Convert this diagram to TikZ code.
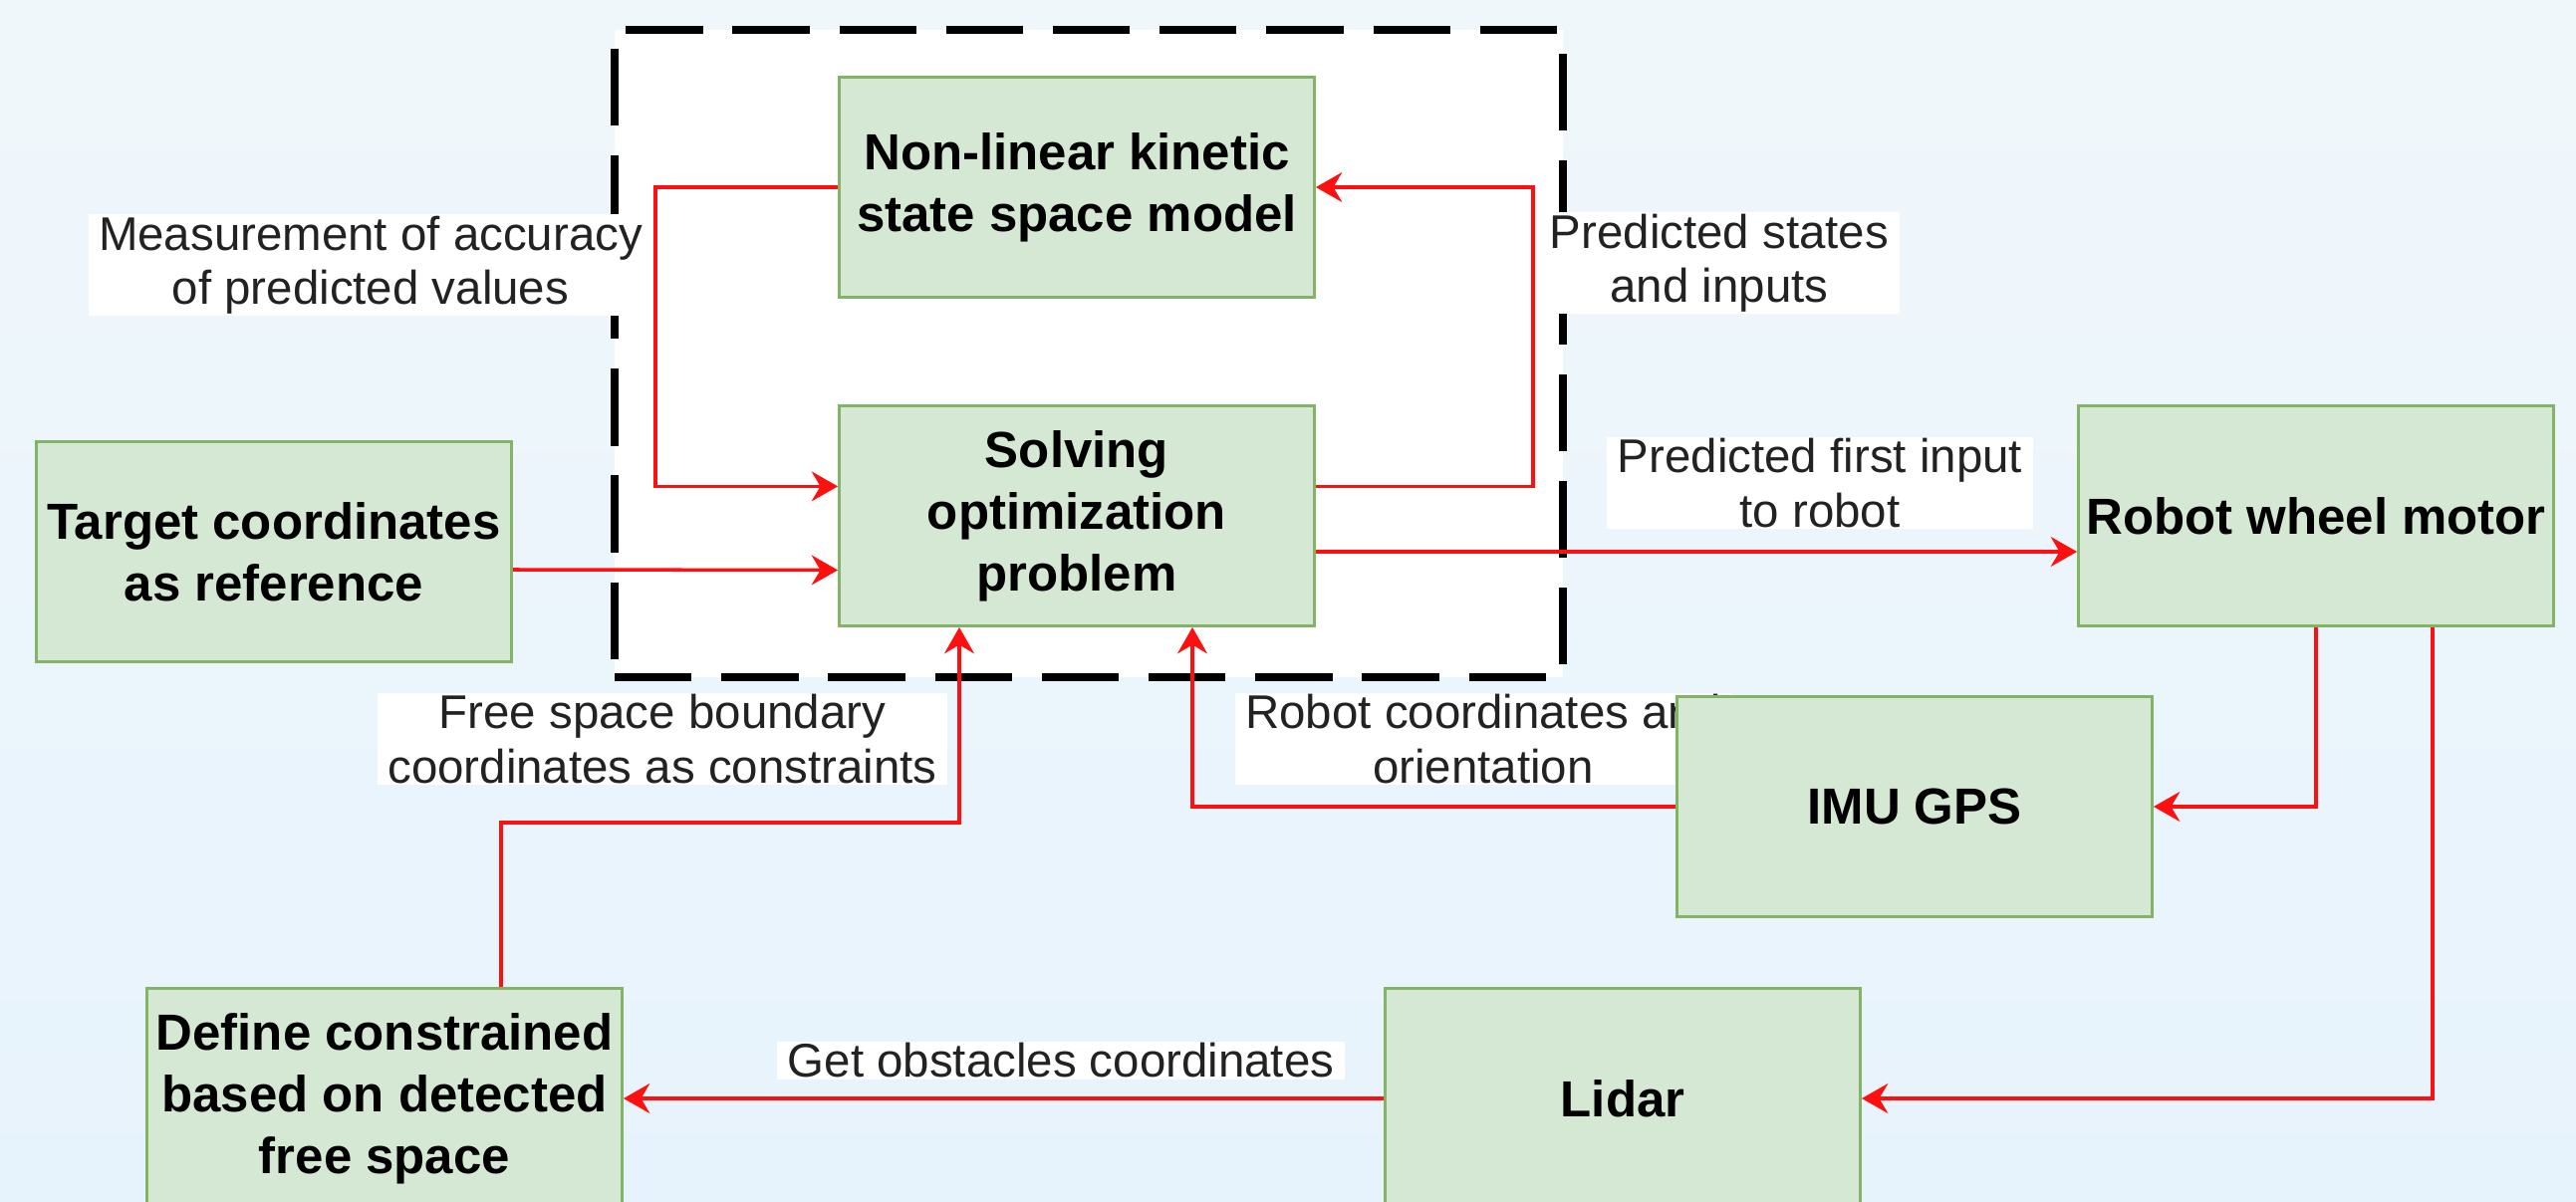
\documentclass[tikz,border=0pt]{standalone}
\usepackage{fontspec}
\setmainfont{Liberation Sans}
\usepackage{xcolor}
\usepackage{tikz}
\usetikzlibrary{arrows.meta,calc,positioning}

\definecolor{bgtop}{HTML}{F0F7FB}
\definecolor{bgbot}{HTML}{E7F3FC}
\definecolor{boxfill}{HTML}{D5E8D4}
\definecolor{boxedge}{HTML}{82B366}
\definecolor{wirered}{HTML}{FF1010}
\definecolor{lbltext}{HTML}{222222}

\begin{document}
\begin{tikzpicture}[
    blk/.style={rectangle, draw=boxedge, fill=boxfill, line width=0.8pt, minimum width=4.77cm, minimum height=2.21cm, inner sep=1pt, align=center, font=\fontsize{14.5}{17.6}\selectfont\bfseries},
    lbl/.style={rectangle, fill=white, text=lbltext, inner xsep=3pt, inner ysep=0.5pt, align=center, font=\fontsize{13.5}{15.4}\selectfont},
    flow/.style={-{Stealth[length=7.5pt,width=8.5pt,inset=2.5pt]}, wirered, line width=1pt},
    mpcband/.style={rectangle, draw=black, fill=white, line width=2.4pt, dash pattern=on 22pt off 8.5pt}
]
% ----- canvas -----
\clip (0,0) rectangle (25.86,12.06);
\shade[top color=bgtop, bottom color=bgbot] (0,0) rectangle (25.86,12.06);
% ----- MPC loop -----
\node[mpcband, minimum width=9.52cm, minimum height=6.5cm] (mpc) at (10.93,8.51) {};
\node[blk] (nlm) at (10.81,10.18) {Non-linear kinetic\\state space model};
\node[blk] (sol) at (10.81,6.88) {Solving\\optimization\\problem};
% ----- outer blocks -----
\node[blk] (tgt) at (2.75,6.52) {Target coordinates\\as reference};
\node[blk] (rwm) at (23.25,6.88) {Robot wheel motor};
\node[blk] (lid) at (16.29,1.03) {Lidar};
\node[blk] (def) at (3.86,1.03) {Define constrained\\based on detected\\free space};
% ----- labels -----
\node[lbl] (accLbl) at (3.72,9.40) {Measurement of accuracy\\of predicted values};
\node[lbl] (predLbl) at (17.26,9.42) {Predicted states\\and inputs};
\node[lbl] (firstLbl) at (18.27,7.21) {Predicted first input\\to robot};
\node[lbl] (freeLbl) at (6.65,4.64) {Free space boundary\\coordinates as constraints};
\node[lbl] (poseLbl) at (14.89,4.64) {Robot coordinates and\\orientation};
\node[lbl] (obsLbl) at (10.65,1.41) {Get obstacles coordinates};
\node[blk] (imu) at (19.22,3.96) {IMU GPS};
% ----- signal flow -----
\draw[flow] (nlm.west) -- ++(-1.83,0) |- ([yshift=2.96mm]sol.west);
\draw[flow] ([yshift=2.96mm]sol.east) -- ++(2.18,0) |- (nlm.east);
\draw[flow] ([yshift=-1.8mm]tgt.east) -- ([yshift=-5.45mm]sol.west);
\draw[flow] ([yshift=-3.6mm]sol.east) -- ([yshift=-3.6mm]rwm.west);
\draw[flow] (rwm.south) |- (imu.east);
\draw[flow] ([xshift=11.7mm]rwm.south) |- (lid.east);
\draw[flow] (imu.west) -| ([xshift=11.6mm]sol.south);
\draw[flow] ([xshift=11.7mm]def.north) -- ++(0,1.65) -| ([xshift=-11.8mm]sol.south);
\draw[flow] (lid.west) -- (def.east);
\end{tikzpicture}
\end{document}
